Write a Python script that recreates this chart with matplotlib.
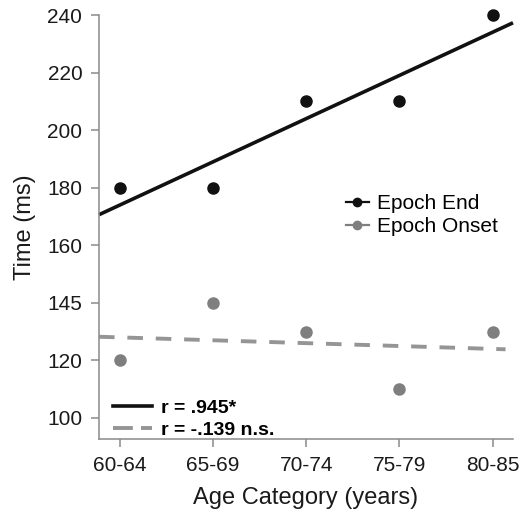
import numpy as np
import matplotlib
matplotlib.use("Agg")
import matplotlib.pyplot as plt
from matplotlib.lines import Line2D

plt.rcParams['font.family'] = ['Liberation Sans', 'DejaVu Sans']

categories = ['60-64', '65-69', '70-74', '75-79', '80-85']
epoch_end = [180, 180, 210, 210, 240]
epoch_onset = [120, 140, 130, 110, 130]
y_ticks = [100, 120, 140, 160, 180, 200, 220, 240]
y_tick_labels = ['100', '120', '145', '160', '180', '200', '220', '240']
r_labels = ['r = .945*', 'r = -.139 n.s.']
series_labels = ['Epoch End', 'Epoch Onset']

black = '#111111'
gray_dot = '#7f7f7f'
gray_line = '#959595'
spine_col = '#8a8a8a'

fig = plt.figure(figsize=(5.22, 5.13), dpi=100)
ax = fig.add_axes([99/522, 1-439/513, (513-99)/522, (439-15)/513])

x = np.arange(len(categories))
xlim = (-0.225, 4.22)
ax.set_xlim(*xlim)
ax.set_ylim(92.7, 240)

# regression lines
xx = np.array(xlim)
p_end = np.polyfit(x, epoch_end, 1)
p_on = np.polyfit(x, epoch_onset, 1)
ax.plot(xx, np.polyval(p_end, xx), color=black, lw=2.6, solid_capstyle='butt', zorder=2, clip_on=False)
ax.plot([xx[0], 4.14], np.polyval(p_on, [xx[0], 4.14]), color=gray_line, lw=2.8,
        dashes=(4.0, 3.3), dash_capstyle='butt', zorder=2)

ax.plot(x, epoch_end, 'o', color=black, ms=8, zorder=3, clip_on=False)
ax.plot(x, epoch_onset, 'o', color=gray_dot, ms=8, zorder=3, clip_on=False)

ax.set_xticks(x)
ax.set_xticklabels(categories)
ax.set_yticks(y_ticks)
ax.set_yticklabels(y_tick_labels)

for s in ['top', 'right']:
    ax.spines[s].set_visible(False)
for s in ['left', 'bottom']:
    ax.spines[s].set_color(spine_col)
    ax.spines[s].set_linewidth(1.1)

ax.tick_params(axis='both', direction='out', length=5.8, width=1.1, color=spine_col,
               labelsize=15, labelcolor='#1a1a1a', pad=6.2)

ax.set_xlabel('Age Category (years)', fontsize=17, color='#1a1a1a', labelpad=9)
ax.set_ylabel('Time (ms)', fontsize=17, color='#1a1a1a', labelpad=8)

# series legend
h1 = [Line2D([], [], color=black, marker='o', ms=6, lw=1.6),
      Line2D([], [], color=gray_dot, marker='o', ms=6, lw=1.6)]
leg1 = ax.legend(h1, series_labels, loc='upper left', bbox_to_anchor=(346/522, 1-194/513),
                 bbox_transform=fig.transFigure, frameon=False, fontsize=15,
                 handlelength=1.1, handletextpad=0.4, borderpad=0, borderaxespad=0,
                 labelspacing=0.2)
ax.add_artist(leg1)

# r legend
h2 = [Line2D([], [], color=black, lw=2.6),
      Line2D([], [], color=gray_line, lw=2.8, dashes=(5.1, 2.1))]
leg2 = ax.legend(h2, r_labels, loc='upper left', bbox_to_anchor=(113/522, 1-399/513),
                 bbox_transform=fig.transFigure, frameon=False,
                 prop={'size': 14, 'weight': 'bold'},
                 handlelength=2.0, handletextpad=0.45, borderpad=0, borderaxespad=0,
                 labelspacing=0.25)

fig.savefig('out.png', dpi=100)
